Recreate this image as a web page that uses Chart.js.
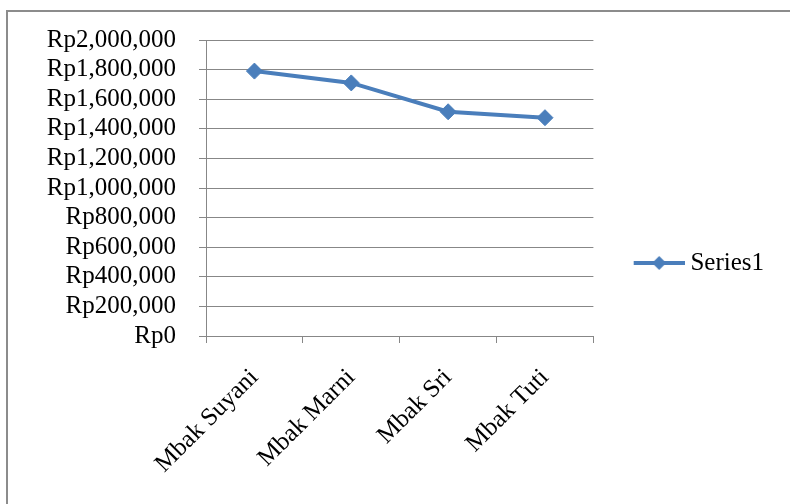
<!DOCTYPE html>
<html>
<head>
<meta charset="utf-8">
<script src="https://cdn.jsdelivr.net/npm/chart.js@4/dist/chart.umd.min.js"></script>
<style>
  html, body { margin: 0; padding: 0; background: #fff; overflow: hidden; width: 790px; height: 504px; }
  #frame { position: absolute; left: 6px; top: 10px; width: 820px; height: 560px;
           border-left: 2px solid #8c8c8c; border-top: 2px solid #8c8c8c; }
  #wrap { position: absolute; left: 0; top: 0; width: 790px; height: 504px; }
</style>
</head>
<body>
<div id="frame"></div>
<div id="wrap"><canvas id="chart" width="790" height="504"></canvas></div>
<script>
// Income per person (Rupiah)
const categories = ['Mbak Suyani', 'Mbak Marni', 'Mbak Sri', 'Mbak Tuti'];
const seriesName = 'Series1';
const seriesValues = [1790000, 1710000, 1515000, 1475000];

// Value axis range
const yMin = 0;
const yMax = 2000000;
const yStep = 200000;

const LINE_BLUE = '#4a7ebb';
const GRID_GREY = '#878787';
const FONT = '"Liberation Serif", "Times New Roman", serif';

// Legend swatch: a short line with a diamond in the middle
function legendSwatch() {
  const c = document.createElement('canvas');
  c.width = 88; c.height = 18;
  const g = c.getContext('2d');
  const cy = 9;
  g.strokeStyle = LINE_BLUE;
  g.lineWidth = 4;
  g.beginPath();
  g.moveTo(37, cy);
  g.lineTo(88, cy);
  g.stroke();
  const cx = 62.5, r = 7;
  g.fillStyle = LINE_BLUE;
  g.beginPath();
  g.moveTo(cx, cy - r);
  g.lineTo(cx + r, cy);
  g.lineTo(cx, cy + r);
  g.lineTo(cx - r, cy);
  g.closePath();
  g.fill();
  return c;
}

function rupiah(v) {
  return 'Rp' + Number(v).toLocaleString('en-US');
}

new Chart(document.getElementById('chart'), {
  type: 'line',
  data: {
    labels: categories,
    datasets: [{
      label: seriesName,
      data: seriesValues,
      borderColor: LINE_BLUE,
      backgroundColor: LINE_BLUE,
      borderWidth: 4,
      tension: 0,
      pointStyle: 'rectRot',
      pointRadius: 8,
      pointHoverRadius: 8,
      pointBackgroundColor: LINE_BLUE,
      pointBorderColor: LINE_BLUE,
      pointBorderWidth: 1
    }]
  },
  options: {
    responsive: false,
    animation: false,
    devicePixelRatio: 1,
    layout: { padding: { top: 40, bottom: 18, left: 0, right: 16 } },
    plugins: {
      tooltip: { enabled: false },
      legend: {
        display: true,
        position: 'right',
        align: 'center',
        labels: {
          usePointStyle: true,
          pointStyle: legendSwatch(),
          pointStyleWidth: 74.5,
          boxHeight: 25,
          padding: 10,
          color: '#000',
          font: { family: FONT, size: 25 }
        }
      }
    },
    scales: {
      x: {
        type: 'category',
        offset: true,
        grid: {
          offset: true,
          drawOnChartArea: false,
          drawTicks: true,
          tickLength: 7,
          color: GRID_GREY
        },
        border: { display: true, color: GRID_GREY, width: 1 },
        ticks: {
          color: '#000',
          font: { family: FONT, size: 25 },
          minRotation: 45,
          maxRotation: 45,
          padding: 20,
          autoSkip: false
        },
        afterFit: (scale) => { scale.height = 150; }
      },
      y: {
        min: yMin,
        max: yMax,
        grid: {
          color: GRID_GREY,
          lineWidth: 1,
          drawTicks: true,
          tickLength: 7
        },
        border: { display: true, color: GRID_GREY, width: 1 },
        ticks: {
          stepSize: yStep,
          autoSkip: false,
          color: '#000',
          padding: 23,
          font: { family: FONT, size: 25 },
          callback: (v) => rupiah(v)
        },
        afterFit: (scale) => { scale.width = 206; }
      }
    }
  }
});
</script>
</body>
</html>
